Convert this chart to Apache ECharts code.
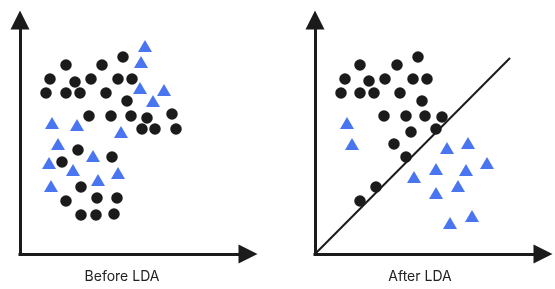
<!DOCTYPE html>
<html>
<head>
<meta charset="utf-8">
<script src="https://cdn.jsdelivr.net/npm/echarts@6/dist/echarts.min.js"></script>
<style>
  html, body { margin: 0; padding: 0; background: #ffffff; }
  #chart { width: 555px; height: 289px; }
</style>
</head>
<body>
<div id="chart"></div>
<script>
// Panel titles
var panelTitles = ['Before LDA', 'After LDA'];

// Before LDA: class A (black circles), [x, y] from the axes origin
var beforeClassA = [
  [103,197],[46,189],[82,189],[30,175],[55,172],[71,175],[98,175],[112,175],
  [26,161],[46,161],[60,161],[86,161],[107,153],[69,138],[91,138],[111,138],
  [127,136],[152,140],[122,125],[135,125],[156,125],[58,104],[92,97],[42,92],
  [61,67],[46,53],[77,56],[97,56],[61,39],[76,39],[94,40]
];
// Before LDA: class B (blue triangles)
var beforeClassB = [
  [125,208],[121,192],[120,166],[144,164],[133,153],[32,131],[57,129],[101,122],
  [38,110],[73,98],[29,91],[53,84],[98,81],[78,74],[31,68]
];

// After LDA: class A (black circles)
var afterClassA = [
  [103,197],[45,189],[82,189],[30,175],[54,173],[70,175],[98,175],[112,175],
  [26,161],[45,161],[59,161],[85,161],[107,153],[69,138],[91,138],[110,138],
  [127,137],[96,122],[121,125],[79,110],[91,97],[61,67],[45,53]
];
// After LDA: class B (blue triangles)
var afterClassB = [
  [32,131],[37,110],[153,111],[132,106],[172,91],[121,85],[151,84],[99,77],
  [143,68],[121,61],[157,38],[135,31]
];
// After LDA: separating line
var separatorLine = [[0,0],[195,196]];

var INK = '#1b1b1b';
var BLUE = '#4a75f0';

function axisCommon(max) {
  return {
    type: 'value', min: 0, max: max,
    axisLine: {
      show: true, onZero: false,
      symbol: ['none', 'triangle'], symbolSize: [19, 19],
      lineStyle: { color: INK, width: 3, cap: 'square' }
    },
    axisTick: { show: false }, axisLabel: { show: false }, splitLine: { show: false }
  };
}

var chart = echarts.init(document.getElementById('chart'), null, { renderer: 'canvas' });
var xa0 = axisCommon(228); xa0.gridIndex = 0;
var ya0 = axisCommon(234); ya0.gridIndex = 0;
var xa1 = axisCommon(228); xa1.gridIndex = 1;
var ya1 = axisCommon(234); ya1.gridIndex = 1;

chart.setOption({
  animation: false,
  backgroundColor: '#ffffff',
  grid: [
    { left: 20, top: 20, width: 228, height: 234 },
    { left: 315, top: 20, width: 228, height: 234 }
  ],
  xAxis: [xa0, xa1],
  yAxis: [ya0, ya1],
  series: [
    { type: 'scatter', xAxisIndex: 0, yAxisIndex: 0, data: beforeClassA,
      symbol: 'circle', symbolSize: 11.5, itemStyle: { color: INK, opacity: 1 }, z: 3 },
    { type: 'scatter', xAxisIndex: 0, yAxisIndex: 0, data: beforeClassB,
      symbol: 'triangle', symbolSize: [14, 12], itemStyle: { color: BLUE, opacity: 1 }, z: 3 },
    { type: 'line', xAxisIndex: 1, yAxisIndex: 1, data: separatorLine,
      symbol: 'none', lineStyle: { color: INK, width: 2 }, z: 2, silent: true },
    { type: 'scatter', xAxisIndex: 1, yAxisIndex: 1, data: afterClassA,
      symbol: 'circle', symbolSize: 11.5, itemStyle: { color: INK, opacity: 1 }, z: 3 },
    { type: 'scatter', xAxisIndex: 1, yAxisIndex: 1, data: afterClassB,
      symbol: 'triangle', symbolSize: [14, 12], itemStyle: { color: BLUE, opacity: 1 }, z: 3 }
  ],
  graphic: [
    { type: 'text', x: 122, y: 277, style: { text: panelTitles[0], fill: '#222222',
      font: '14px Inter, "Open Sans", sans-serif', textAlign: 'center', textVerticalAlign: 'middle' } },
    { type: 'text', x: 420, y: 277, style: { text: panelTitles[1], fill: '#222222',
      font: '14px Inter, "Open Sans", sans-serif', textAlign: 'center', textVerticalAlign: 'middle' } }
  ]
});
</script>
</body>
</html>
